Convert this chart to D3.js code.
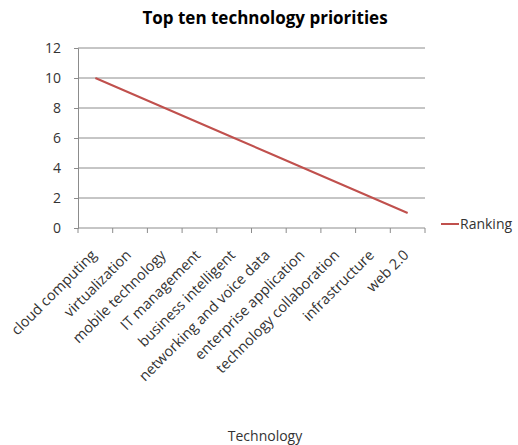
<!DOCTYPE html>
<html>
<head>
<meta charset="utf-8">
<script src="https://cdn.jsdelivr.net/npm/d3@7"></script>
<style>
  body { margin: 0; background: #fff; }
  text { font-family: "Open Sans", "Liberation Sans", sans-serif; fill: #333; }
</style>
</head>
<body>
<script>
var categorias = ["cloud computing", "virtualization", "mobile technology", "IT management",
  "business intelligent", "networking and voice data", "enterprise application",
  "technology collaboration", "infrastructure", "web 2.0"];
var ranking = [10, 9, 8, 7, 6, 5, 4, 3, 2, 1];
var ticksY = [0, 2, 4, 6, 8, 10, 12];

var w = 518, h = 445;
var svg = d3.select("body").append("svg")
  .attr("width", w).attr("height", h);

// area del grafico
var izq = 78, der = 425, arriba = 48, abajo = 228;

var x = d3.scaleBand().domain(categorias).range([izq, der]);
var y = d3.scaleLinear().domain([0, 12]).range([abajo, arriba]);

// lineas de rejilla
svg.selectAll(".grid")
  .data(ticksY.filter(function(d){ return d > 0; }))
  .enter().append("line")
  .attr("x1", izq).attr("x2", der)
  .attr("y1", function(d){ return y(d); })
  .attr("y2", function(d){ return y(d); })
  .attr("stroke", "#8c8c8c").attr("stroke-width", 1);

// eje y
var ejeY = svg.append("g").attr("transform", "translate(" + izq + ",0)")
  .call(d3.axisLeft(y).tickValues(ticksY).tickSize(4).tickPadding(13));
ejeY.select(".domain").attr("stroke", "#8c8c8c");
ejeY.selectAll(".tick line").attr("stroke", "#8c8c8c");
ejeY.selectAll("text").attr("font-size", 14).attr("fill", "#333")
  .attr("font-family", "Open Sans");

// eje x
var bordes = categorias.map(function(c){ return x(c); }).concat([der]);
svg.append("line").attr("x1", izq).attr("x2", der)
  .attr("y1", abajo).attr("y2", abajo).attr("stroke", "#8c8c8c");
svg.selectAll(".tx").data(bordes).enter().append("line")
  .attr("x1", function(d){ return d; }).attr("x2", function(d){ return d; })
  .attr("y1", abajo).attr("y2", abajo + 5).attr("stroke", "#8c8c8c");

svg.selectAll(".cat").data(categorias).enter().append("text")
  .attr("transform", function(d){
    return "translate(" + (x(d) + x.bandwidth() / 2 + 2) + "," + (abajo + 28) + ") rotate(-45)";
  })
  .attr("text-anchor", "end")
  .attr("font-size", 14.5)
  .text(function(d){ return d; });

// linea de datos
var linea = d3.line()
  .x(function(d, i){ return x(categorias[i]) + x.bandwidth() / 2; })
  .y(function(d){ return y(d); });
svg.append("path").datum(ranking)
  .attr("d", linea)
  .attr("fill", "none")
  .attr("stroke", "#c0504d")
  .attr("stroke-width", 2);

// titulo
svg.append("text").attr("x", 265).attr("y", 24)
  .attr("text-anchor", "middle").attr("font-size", 17).attr("font-weight", "bold")
  .style("fill", "#000")
  .text("Top ten technology priorities");

// leyenda
svg.append("line").attr("x1", 441).attr("x2", 459)
  .attr("y1", 224).attr("y2", 224)
  .attr("stroke", "#c0504d").attr("stroke-width", 2);
svg.append("text").attr("x", 460).attr("y", 229)
  .attr("font-size", 14).text("Ranking");

// titulo eje x
svg.append("text").attr("x", 265).attr("y", 441)
  .attr("text-anchor", "middle").attr("font-size", 14)
  .text("Technology");
</script>
</body>
</html>
